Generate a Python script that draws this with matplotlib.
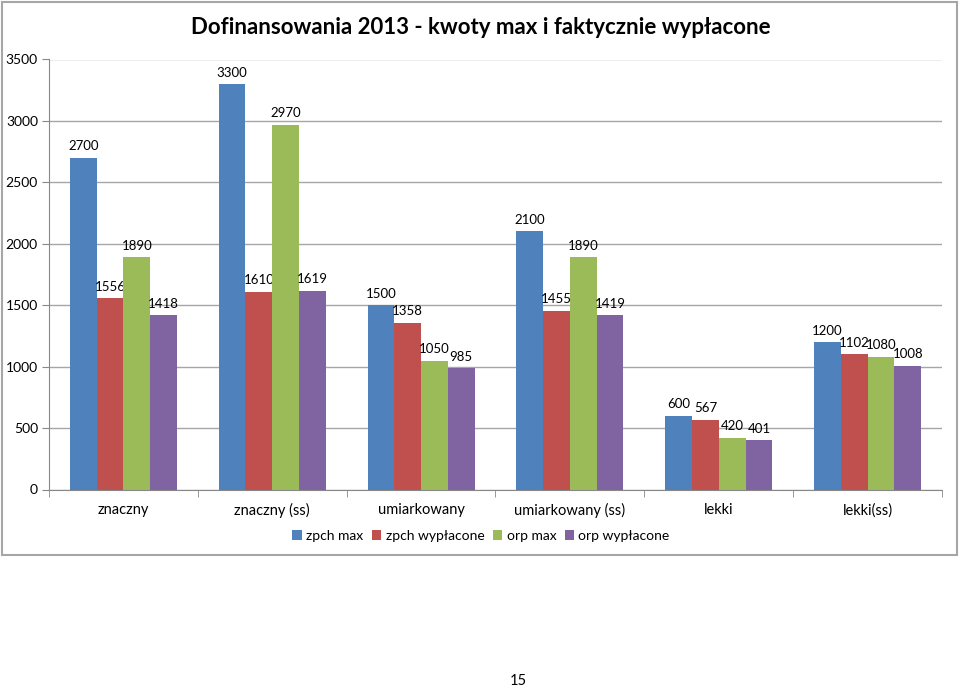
import numpy as np
import matplotlib
matplotlib.use("Agg")
import matplotlib.pyplot as plt
from matplotlib.patches import Rectangle

plt.rcParams['font.family'] = ['Lato', 'DejaVu Sans']

categories = ["znaczny", "znaczny (ss)", "umiarkowany", "umiarkowany (ss)", "lekki", "lekki(ss)"]
series_names = ["zpch max", "zpch wypłacone", "orp max", "orp wypłacone"]
zpch_max = [2700, 3300, 1500, 2100, 600, 1200]
zpch_paid = [1556, 1610, 1358, 1455, 567, 1102]
orp_max = [1890, 2970, 1050, 1890, 420, 1080]
orp_paid = [1418, 1619, 985, 1419, 401, 1008]
colors = ['#4F81BD', '#C0504D', '#9BBB59', '#8064A2']

fig = plt.figure(figsize=(9.6, 6.88), dpi=100)
ax = fig.add_axes([49/960, 1-489.5/688, 893/960, 430/688])

# chart border
fig.patches.append(Rectangle((2/960, 1-555/688), 955/960, 553/688, transform=fig.transFigure,
                             fill=False, edgecolor='#a6a6a6', lw=1.5))

x = np.arange(len(categories))
w = 0.18
data = [zpch_max, zpch_paid, orp_max, orp_paid]
for i, vals in enumerate(data):
    pos = x + (i - 1.5) * w
    bars = ax.bar(pos, vals, width=w, color=colors[i], label=series_names[i], zorder=3)
    for b, v in zip(bars, vals):
        ax.annotate(str(v), (b.get_x() + b.get_width()/2, v), xytext=(0, 4),
                    textcoords='offset points', ha='center', va='bottom', fontsize=9.5)

ax.set_xlim(-0.5, len(categories) - 0.5)
ax.set_ylim(0, 3500)
ax.set_yticks(np.arange(0, 3501, 500))
ax.yaxis.grid(True, color='#a6a6a6', lw=1, zorder=0)
ax.set_xticks(x)
ax.set_xticklabels(categories, fontsize=10.5)
ax.set_xticks(np.arange(-0.5, len(categories)), minor=True)
ax.tick_params(axis='x', which='major', length=0, pad=10)
ax.tick_params(axis='x', which='minor', length=5, color='#888888')
ax.tick_params(axis='y', length=5, color='#888888', labelsize=10, pad=3)
for s in ['top', 'right']:
    ax.spines[s].set_visible(False)
for s in ['left', 'bottom']:
    ax.spines[s].set_color('#888888')

fig.text(481/960, 1-27/688, "Dofinansowania 2013 - kwoty max i faktycznie wypłacone",
         ha='center', va='center', fontsize=16, fontweight='bold')

fig.legend(loc='center', bbox_to_anchor=(481/960, 1-536/688), ncol=4, frameon=False,
           fontsize=10, handlelength=0.7, handleheight=0.7, handletextpad=0.3, columnspacing=0.6)

fig.text(518/960, 1-681/688, "15", ha='center', va='center', fontsize=10.5)

fig.savefig("out.png", dpi=100)
